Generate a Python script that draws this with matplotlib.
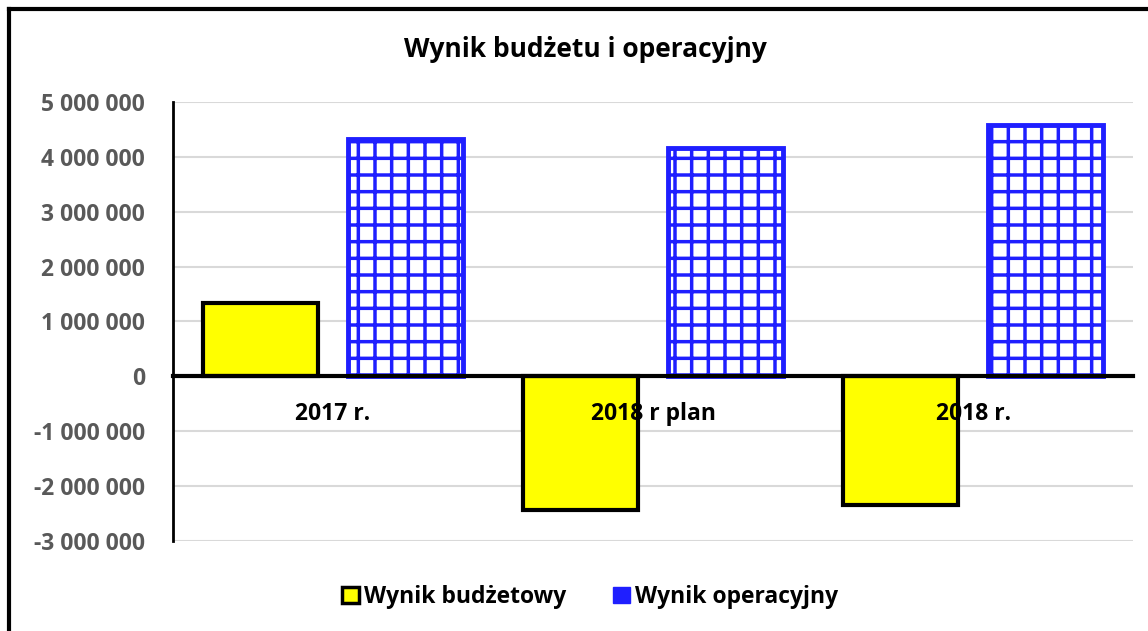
import numpy as np
import matplotlib.pyplot as plt
from matplotlib.patches import Patch
from matplotlib.lines import Line2D
from matplotlib.ticker import FuncFormatter, MultipleLocator

plt.rcParams['font.family'] = ['Open Sans', 'DejaVu Sans']
plt.rcParams['font.weight'] = 'bold'
plt.rcParams['hatch.linewidth'] = 2.5

categories = ['2017 r.', '2018 r plan', '2018 r.']
wynik_budzetowy = [1340000, -2430000, -2350000]
wynik_operacyjny = [4320000, 4170000, 4580000]

YELLOW = '#ffff00'
BLUE = '#1f1fff'

fig = plt.figure(figsize=(11.48, 6.31), dpi=100)
ax = fig.add_axes([0.1507, 0.1426, 0.8363, 0.6958])

x = np.arange(len(categories))
w = 0.36
off = 0.227
ax.bar(x - off, wynik_budzetowy, w, color=YELLOW, edgecolor='black', linewidth=3, zorder=2)
ax.bar(x + off, wynik_operacyjny, w, color='white', edgecolor=BLUE, linewidth=3.5,
       hatch='+', zorder=2)

ax.set_xlim(-0.5, 2.5)
ax.set_ylim(-3000000, 5000000)
ax.yaxis.set_major_locator(MultipleLocator(1000000))
ax.yaxis.set_major_formatter(FuncFormatter(lambda v, p: f"{int(round(v)):,}".replace(',', ' ')))
ax.tick_params(axis='y', length=0, pad=20, labelsize=16.5, labelcolor='#595959')
ax.set_xticks([])
ax.set_axisbelow(True)
ax.yaxis.grid(True, color='#d9d9d9', linewidth=1.5)

for s in ['top', 'right']:
    ax.spines[s].set_visible(False)
ax.spines['left'].set_linewidth(2)
ax.spines['bottom'].set_position(('data', 0))
ax.spines['bottom'].set_linewidth(3)
ax.spines['bottom'].set_zorder(3)

for i, lab in enumerate(categories):
    ax.annotate(lab, (i, 0), xytext=(0, -27), textcoords='offset points',
                ha='center', va='center', fontsize=16.5, fontweight='bold',
                color='black', zorder=5)

fig.text(0.51, 0.921, 'Wynik budżetu i operacyjny', ha='center', va='center',
         fontsize=19, fontweight='bold')

handles = [Patch(facecolor=YELLOW, edgecolor='black', linewidth=2.5),
           Patch(facecolor=BLUE, edgecolor=BLUE, linewidth=1)]
fig.legend(handles, ['Wynik budżetowy', 'Wynik operacyjny'], loc='center',
           bbox_to_anchor=(0.514, 0.054), ncol=2, frameon=False,
           prop={'size': 16.5, 'weight': 'bold'}, handlelength=0.75, handleheight=0.75,
           handletextpad=0.25, columnspacing=2.0)

fig.add_artist(Line2D([0.008, 0.008], [0, 0.986], color='black', linewidth=3,
                      transform=fig.transFigure))
fig.add_artist(Line2D([0.008, 1], [0.986, 0.986], color='black', linewidth=3,
                      transform=fig.transFigure))

fig.savefig('out.png', dpi=100)
